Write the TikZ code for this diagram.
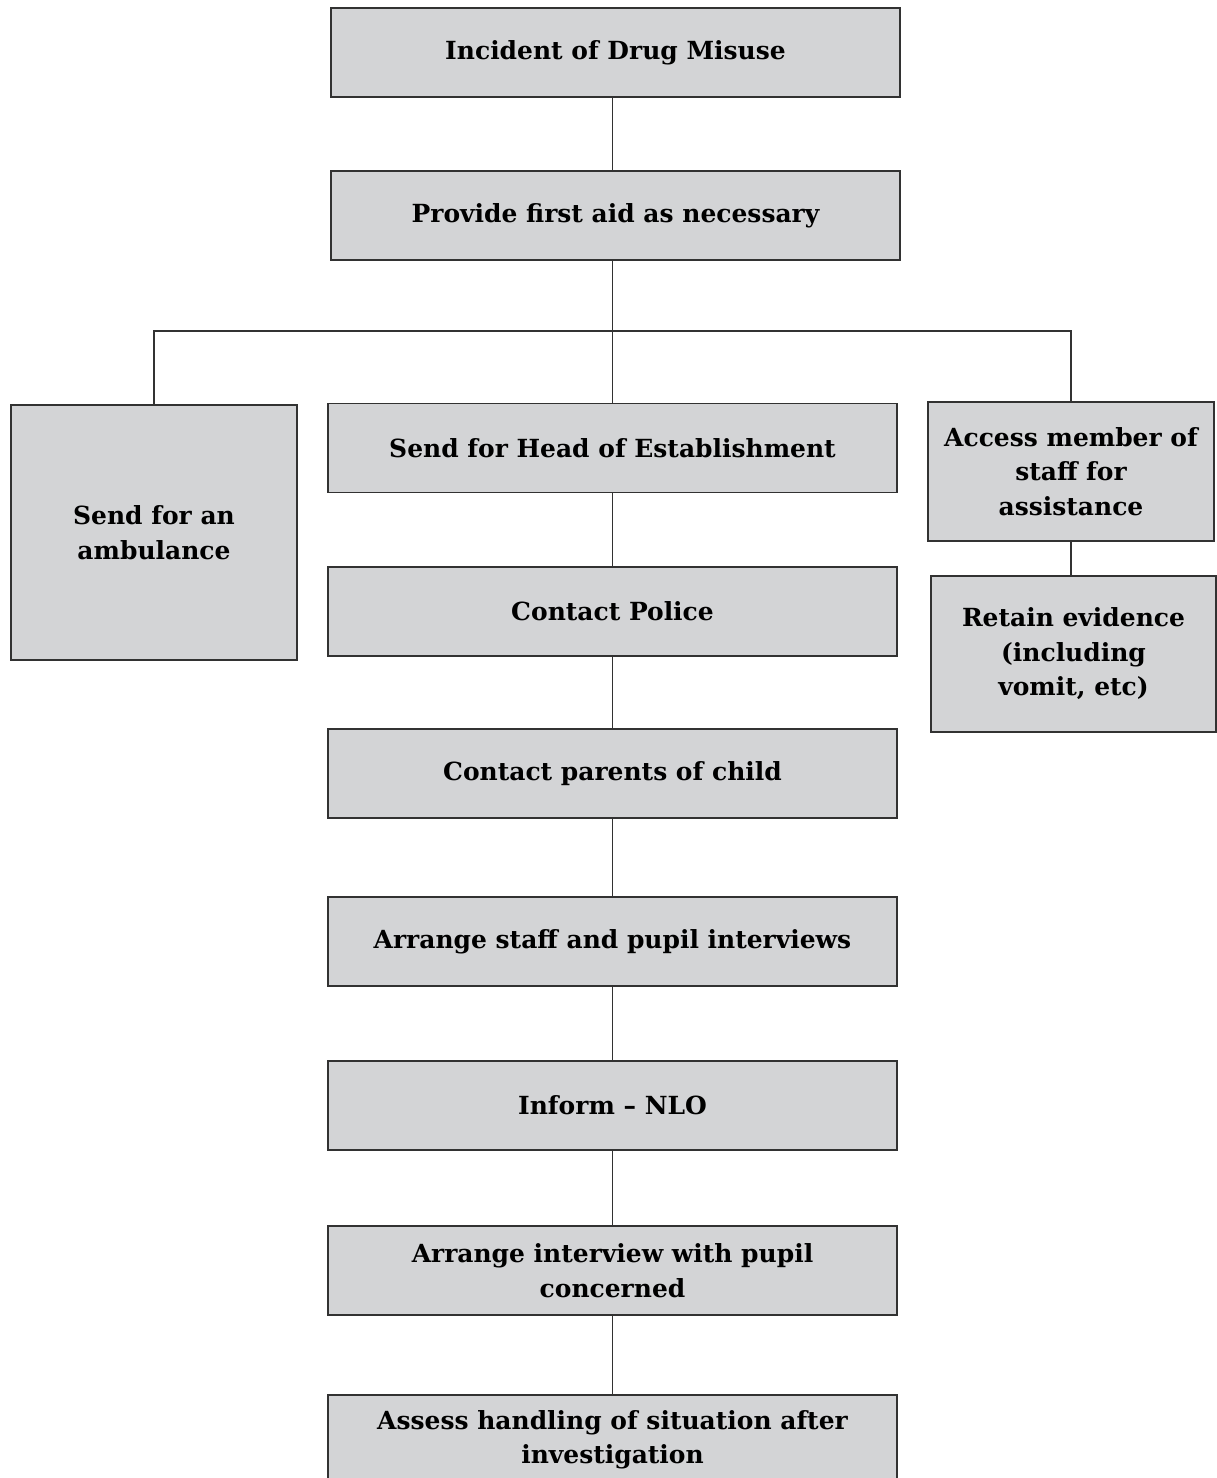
\documentclass[tikz,border=0pt]{standalone}
\usepackage{fontspec}
\setmainfont{DejaVu Serif}
\definecolor{boxgray}{RGB}{211,212,214}
\definecolor{edgegray}{RGB}{50,50,50}

\begin{document}
\begin{tikzpicture}[
  stage/.style={draw=edgegray,line width=0.6pt,fill=boxgray,align=center,
    font=\fontsize{14.2}{19.6}\selectfont\bfseries,inner sep=0pt},
  wide/.style={stage,minimum width=11.38cm,minimum height=1.78cm},
  side/.style={stage,minimum width=5.72cm},
  link/.style={draw=edgegray,line width=0.6pt}]
\useasboundingbox (0,0) rectangle (24.32,-29.56);
% main column
\node[wide] (incident) at (12.31,-1.05) {Incident of Drug Misuse};
\node[wide] (firstaid) at (12.31,-4.31) {Provide first aid as necessary};
\node[wide] (head) at (12.25,-8.96) {Send for Head of Establishment};
\node[wide] (police) at (12.25,-12.23) {Contact Police};
\node[wide] (parents) at (12.25,-15.47) {Contact parents of child};
\node[wide] (interviews) at (12.25,-18.83) {Arrange staff and pupil interviews};
\node[wide] (nlo) at (12.25,-22.11) {Inform -- NLO};
\node[wide] (pupil) at (12.25,-25.41) {Arrange interview with pupil\\concerned};
\node[wide] (assess) at (12.25,-28.79) {Assess handling of situation after\\investigation};
% side boxes
\node[side,minimum height=5.1cm] (ambulance) at (3.08,-10.65) {Send for an\\ambulance};
\node[side,minimum height=2.78cm] (access) at (21.42,-9.43) {Access member of\\staff for\\assistance};
\node[side,minimum width=5.7cm,minimum height=3.12cm] (retain) at (21.47,-13.08) {Retain evidence\\(including\\vomit, etc)};
\coordinate (split) at (12.25,-6.62);
% connectors
\draw[link] (incident.south -| split) -- (firstaid.north -| split);
\draw[link] (firstaid.south -| split) -- (split);
\draw[link] (ambulance.north) |- (split) -| (access.north);
\draw[link] (split) -- (head.north);
\draw[link] (head) -- (police);
\draw[link] (police) -- (parents);
\draw[link] (parents) -- (interviews);
\draw[link] (interviews) -- (nlo);
\draw[link] (nlo) -- (pupil);
\draw[link] (pupil) -- (assess);
\draw[link] (access.south) -- (retain.north -| access.south);
\end{tikzpicture}
\end{document}
